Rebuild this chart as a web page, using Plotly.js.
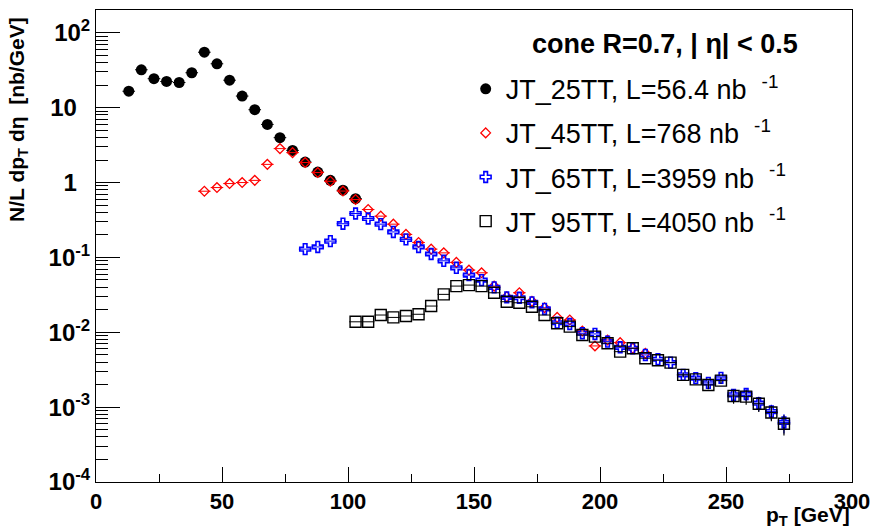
<!DOCTYPE html>
<html>
<head>
<meta charset="utf-8">
<script src="https://cdn.plot.ly/plotly-3.0.1.min.js"></script>
<style>html,body{margin:0;padding:0;background:#fff;}#chart{width:874px;height:532px;}</style>
</head>
<body>
<div id="chart"></div>
<script>
// ---- data ----
const x25 = [13,18,23,28,33,38,43,48,53,58,63,68,73,78,83,88,93,98,103];
const y25 = [16.6,32.1,24.4,22.4,21.7,29.3,55.1,38.6,23.3,14.3,9.4,5.98,3.98,2.69,1.88,1.38,1.07,0.79,0.61];

const x45 = [43,48,53,58,63,68,73,78,83,88,93,98,103,108,113,118,123,128,133,138,143,148,153,158,163,168,173,178,183,188,193,198,203,208,213,218];
const y45 = [0.766,0.857,0.97,1.0,1.07,1.75,2.84,2.51,1.85,1.36,1.04,0.77,0.593,0.436,0.356,0.278,0.203,0.158,0.129,0.115,0.0858,0.0677,0.0623,0.0414,0.0298,0.0337,0.026,0.0213,0.0158,0.0146,0.0104,0.00657,0.00789,0.00727,0.00612,0.00525];

const x65 = [83,88,93,98,103,108,113,118,123,128,133,138,143,148,153,158,163,168,173,178,183,188,193,198,203,208,213,218,223,228,233,238,243,248,253,258,263,268,273];
const y65 = [0.129,0.138,0.165,0.282,0.386,0.331,0.278,0.219,0.174,0.138,0.111,0.0901,0.0727,0.0581,0.0498,0.0398,0.0293,0.0289,0.0251,0.0205,0.0134,0.0129,0.0097,0.0095,0.0075,0.0063,0.00612,0.00498,0.00436,0.00393,0.0027,0.00244,0.00211,0.00246,0.00146,0.0015,0.00113,0.000873,0.000624];
const e65 = [0,0,0,0,0,0,0,0,0,0,0,0,0,0,0,0,0,0,0,0,0,0,0,0,0,0,0,0,0,0,0.0002,0.0002,0.00025,0.0002,0.00025,0.0003,0.00025,0.0002,0.00018];

const x95 = [103,108,113,118,123,128,133,138,143,148,153,158,163,168,173,178,183,188,193,198,203,208,213,218,223,228,233,238,243,248,253,258,263,268,273];
const y95 = [0.0138,0.0138,0.017,0.0158,0.0165,0.0174,0.0224,0.0321,0.0414,0.0427,0.0414,0.0337,0.0256,0.0248,0.0219,0.017,0.0132,0.0119,0.0092,0.00874,0.00714,0.00551,0.00612,0.0045,0.00423,0.00393,0.0027,0.00235,0.00198,0.00226,0.00141,0.00138,0.00111,0.000847,0.000599];
const e95 = [0,0,0,0,0,0,0,0,0,0,0,0,0,0,0,0,0,0,0,0,0,0,0,0,0,0,0.0002,0.0002,0.00025,0.0002,0.0003,0.0003,0.00025,0.0002,0.00018];

const names = ['JT_25TT, L=56.4 nb  <sup>-1</sup>','JT_45TT, L=768 nb  <sup>-1</sup>','JT_65TT, L=3959 nb  <sup>-1</sup>','JT_95TT, L=4050 nb  <sup>-1</sup>'];
const yTickVals = [1e-4,1e-3,1e-2,1e-1,1,10,100];
const yTickText = ['10<sup>-4</sup>','10<sup>-3</sup>','10<sup>-2</sup>','10<sup>-1</sup>','1\u00a0\u00a0','10\u00a0\u00a0','10<sup>2</sup>'];

// minor tick positions for the log axis (2..9 x 10^k)
const yMinor = [];
for (let k = -4; k <= 2; k++) for (let m = 2; m <= 9; m++) { const v = m * Math.pow(10, k); if (v < 200) yMinor.push(v); }

const FONT = 'Liberation Sans, Arial, sans-serif';
const halfBin = 2.5;

function tr(x, y, e, name, color, symbol, size, lw, grp) {
  const t = {
    type: 'scatter', mode: 'markers', x: x, y: y, name: name, legendgroup: grp,
    marker: {symbol: symbol, size: size, color: color, line: {color: color, width: lw}},
    error_x: {type: 'constant', value: halfBin, color: color, thickness: 1, width: 0}
  };
  if (e) t.error_y = {type: 'data', array: e, color: color, thickness: 1.2, width: 0};
  return t;
}

const data = [
  tr(x25, y25, null, names[0], '#000000', 'circle', 11, 0, 'a'),
  tr(x45, y45, null, names[1], '#ff0000', 'diamond-open', 7.5, 1.3, 'b'),
  tr(x65, y65, e65, names[2], '#0000ff', 'cross-open', 9, 1.6, 'c'),
  tr(x95, y95, e95, names[3], '#000000', 'square-open', 11, 1.4, 'd')
];

const layout = {
  width: 874, height: 532,
  margin: {l: 96, r: 22, t: 10, b: 50},
  paper_bgcolor: '#ffffff', plot_bgcolor: '#ffffff',
  font: {family: FONT, color: '#000'},
  showlegend: true,
  legend: {
    x: 0.489, y: 0.884, xanchor: 'left', yanchor: 'top',
    font: {family: FONT, size: 27, color: '#000'},
    bgcolor: 'rgba(0,0,0,0)', borderwidth: 0,
    tracegroupgap: 6, itemsizing: 'trace'
  },
  xaxis: {
    range: [0, 300], tickvals: [0,50,100,150,200,250,300],
    ticks: 'inside', ticklen: 15, tickwidth: 1, tickcolor: '#000',
    minor: {dtick: 25, tick0: 0, ticks: 'inside', ticklen: 8, tickcolor: '#000'},
    showline: true, mirror: true, linecolor: '#000', linewidth: 1,
    showgrid: false, zeroline: false,
    tickfont: {family: FONT, size: 22, color: '#000', weight: 'bold'}
  },
  yaxis: {
    type: 'log', range: [-4, 2.305],
    tickvals: yTickVals, ticktext: yTickText,
    ticks: 'inside', ticklen: 24, tickwidth: 1, tickcolor: '#000',
    minor: {tickvals: yMinor, ticks: 'inside', ticklen: 12, tickcolor: '#000'},
    showline: true, mirror: true, linecolor: '#000', linewidth: 1,
    showgrid: false, zeroline: false,
    tickfont: {family: FONT, size: 24, color: '#000', weight: 'bold'}
  },
  annotations: [
    {xref: 'paper', yref: 'paper', x: 0.931, y: 0.928, xanchor: 'right', yanchor: 'middle',
     text: '<b>cone R=0.7, | η| &lt; 0.5</b>', showarrow: false,
     font: {family: FONT, size: 27, color: '#000'}},
    {xref: 'paper', yref: 'paper', x: -0.104, y: 0.768, xanchor: 'center', yanchor: 'middle', textangle: -90,
     text: '<b>N/L dp<sub>T</sub> dη  [nb/GeV]</b>', showarrow: false,
     font: {family: FONT, size: 21, color: '#000'}},
    {xref: 'paper', yref: 'paper', x: 1.0, y: -0.104, xanchor: 'right', yanchor: 'bottom',
     text: '<b>p<sub>T</sub> [GeV]</b>', showarrow: false,
     font: {family: FONT, size: 21, color: '#000'}}
  ]
};

Plotly.newPlot('chart', data, layout, {displayModeBar: false, staticPlot: true});
</script>
</body>
</html>
